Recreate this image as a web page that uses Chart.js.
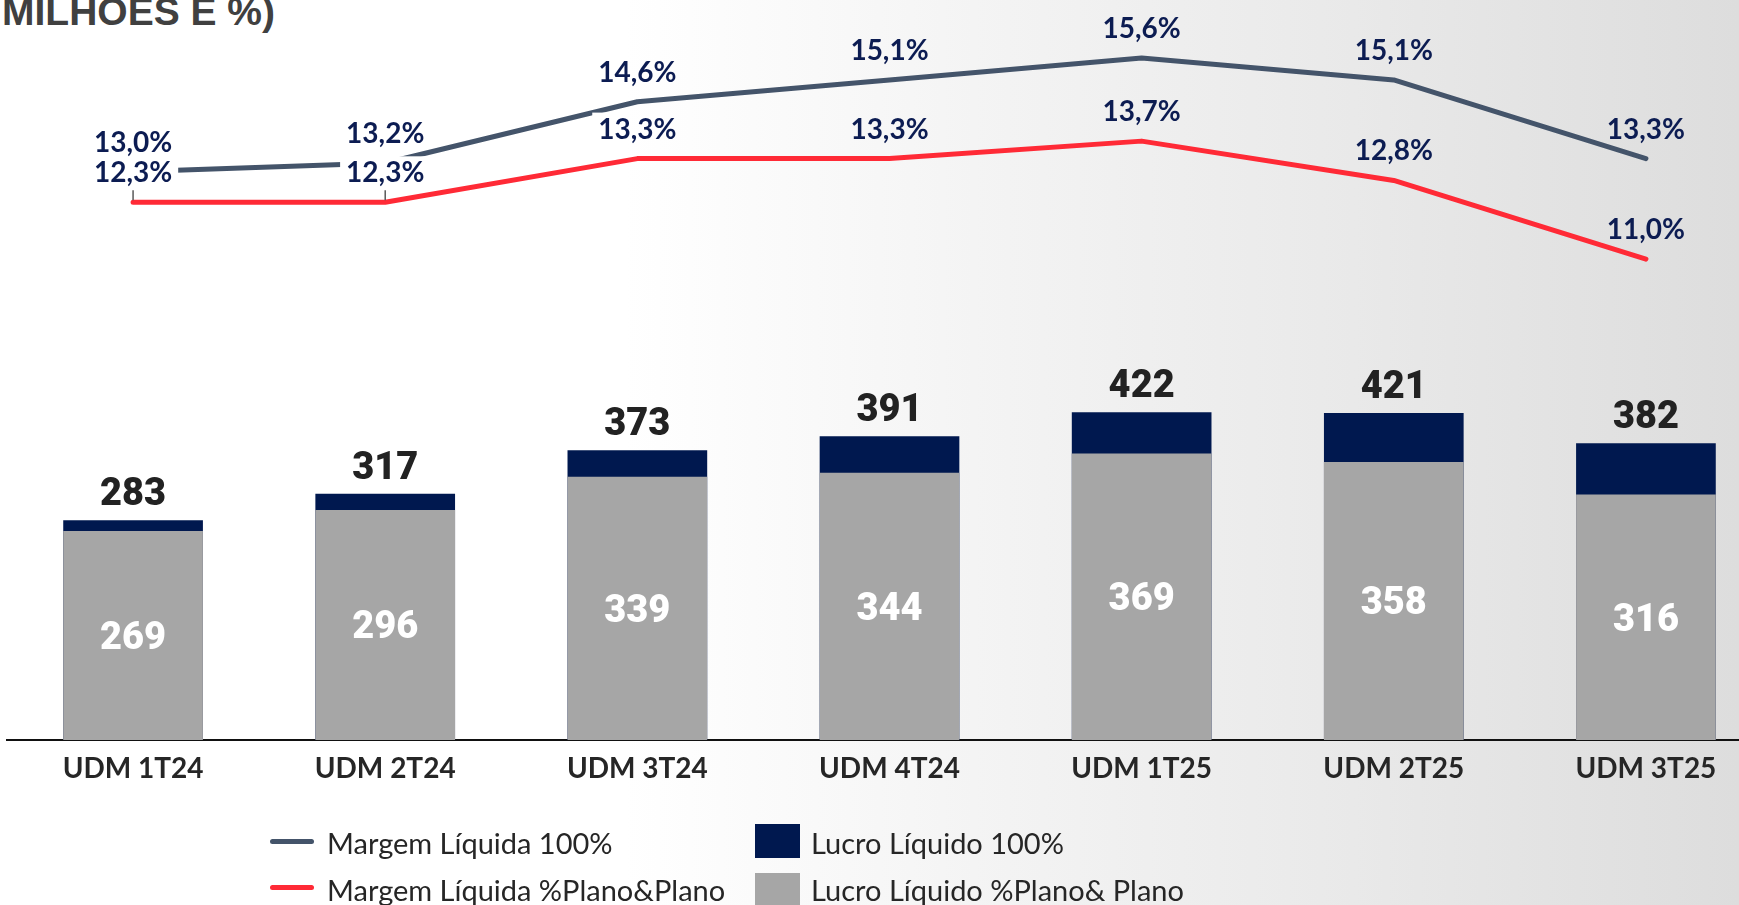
<!DOCTYPE html>
<html>
<head>
<meta charset="utf-8">
<script src="https://cdn.jsdelivr.net/npm/chart.js@4.4.1/dist/chart.umd.min.js"></script>
<style>
  html, body { margin: 0; padding: 0; width: 1739px; height: 905px; overflow: hidden; }
  body {
    background: linear-gradient(to right, #ffffff 0%, #ffffff 36%, #f4f4f4 56%, #eaeaea 76%, #dddddd 100%);
    position: relative;
    font-family: 'Lato', sans-serif;
  }
  #wrap { position: absolute; left: 0; top: 0; width: 1772px; height: 905px; }
  #title {
    position: absolute; left: 2px; top: -8px; font-family: 'Liberation Sans', Arial, sans-serif;
    font-weight: bold; font-size: 39px; line-height: 39px; color: #404040; white-space: nowrap;
  }
  .lg-line { position: absolute; width: 44px; height: 5px; border-radius: 3px; }
  .lg-box { position: absolute; width: 45px; height: 34px; }
  .lg-text {
    position: absolute; font-family: 'Lato', sans-serif; font-size: 29px; line-height: 28px;
    color: #262626; white-space: nowrap;
  }
</style>
</head>
<body>
<div id="title">MILHÕES E %)</div>
<div id="wrap"><canvas id="c" width="1772" height="905"></canvas></div>

<div class="lg-line" id="lgA" style="left:270px; top:839px;"></div>
<div class="lg-text" id="lgAt" style="left:327px; top:829px;"></div>
<div class="lg-line" id="lgB" style="left:270px; top:885px;"></div>
<div class="lg-text" id="lgBt" style="left:327px; top:876px;"></div>
<div class="lg-box" id="lgC" style="left:755px; top:824px;"></div>
<div class="lg-text" id="lgCt" style="left:811px; top:829px;"></div>
<div class="lg-box" id="lgD" style="left:755px; top:873px;"></div>
<div class="lg-text" id="lgDt" style="left:811px; top:876px;"></div>

<script>
// ---- data ----
const categories = ['UDM 1T24', 'UDM 2T24', 'UDM 3T24', 'UDM 4T24', 'UDM 1T25', 'UDM 2T25', 'UDM 3T25'];
const lucro100 = [283, 317, 373, 391, 422, 421, 382];
const lucroPlano = [269, 296, 339, 344, 369, 358, 316];
const margem100 = [13.0, 13.2, 14.6, 15.1, 15.6, 15.1, 13.3];
const margemPlano = [12.3, 12.3, 13.3, 13.3, 13.7, 12.8, 11.0];
const seriesNames = ['Margem Líquida 100%', 'Margem Líquida %Plano&Plano', 'Lucro Líquido 100%', 'Lucro Líquido %Plano& Plano'];
const leaderIdx = [0, 1];

// ---- styles ----
const C_BLUE = '#44546a';
const C_RED = '#ff2a36';
const C_NAVY = '#00184f';
const C_GRAY = '#a6a6a6';
const C_LABEL = '#0c1c52';

// legend (HTML, real text)
document.getElementById('lgA').style.background = C_BLUE;
document.getElementById('lgB').style.background = C_RED;
document.getElementById('lgC').style.background = C_NAVY;
document.getElementById('lgD').style.background = C_GRAY;
document.getElementById('lgAt').textContent = seriesNames[0];
document.getElementById('lgBt').textContent = seriesNames[1];
document.getElementById('lgCt').textContent = seriesNames[2];
document.getElementById('lgDt').textContent = seriesNames[3];

const fmtPct = v => v.toFixed(1).replace('.', ',') + '%';

const labelPlugin = {
  id: 'valueLabels',
  afterDatasetsDraw(chart) {
    const ctx = chart.ctx;
    ctx.save();
    // bar labels
    const mTot = chart.getDatasetMeta(2);
    const mPl = chart.getDatasetMeta(3);
    ctx.textAlign = 'center';
    ctx.textBaseline = 'alphabetic';
    ctx.font = '900 38px Roboto';
    ctx.fillStyle = '#222222';
    mTot.data.forEach((bar, i) => {
      ctx.fillText(String(lucro100[i]), bar.x, bar.y - 15);
    });
    ctx.fillStyle = '#ffffff';
    mPl.data.forEach((bar, i) => {
      const cy = (bar.y + bar.base) / 2;
      ctx.fillText(String(lucroPlano[i]), bar.x, cy + 13.5);
    });

    // percent labels: clear a box behind each label (reveals background), then draw text
    ctx.font = 'bold 28px Lato';
    const items = [];
    [[0, margem100], [1, margemPlano]].forEach(([di, arr]) => {
      chart.getDatasetMeta(di).data.forEach((pt, i) => {
        const txt = fmtPct(arr[i]);
        const w = ctx.measureText(txt).width;
        items.push({ x: pt.x, base: pt.y - 20, txt, w });
      });
    });
    ctx.globalCompositeOperation = 'destination-out';
    items.forEach(it => {
      ctx.fillRect(it.x - it.w / 2 - 6, it.base - 26, it.w + 12, 29);
    });
    ctx.globalCompositeOperation = 'source-over';
    ctx.fillStyle = C_LABEL;
    items.forEach(it => ctx.fillText(it.txt, it.x, it.base));

    // small leader ticks
    const mRed = chart.getDatasetMeta(1);
    ctx.strokeStyle = '#595959';
    ctx.lineWidth = 1.5;
    leaderIdx.forEach(i => {
      const p = mRed.data[i];
      ctx.beginPath();
      ctx.moveTo(p.x, p.y - 12);
      ctx.lineTo(p.x, p.y - 2);
      ctx.stroke();
    });
    ctx.restore();
  }
};

new Chart(document.getElementById('c'), {
  data: {
    labels: categories,
    datasets: [
      { type: 'line', label: seriesNames[0], data: margem100, yAxisID: 'y2', borderColor: C_BLUE,
        borderWidth: 5, pointRadius: 0, borderCapStyle: 'round', borderJoinStyle: 'round', order: 1, tension: 0 },
      { type: 'line', label: seriesNames[1], data: margemPlano, yAxisID: 'y2', borderColor: C_RED,
        borderWidth: 5, pointRadius: 0, borderCapStyle: 'round', borderJoinStyle: 'round', order: 2, tension: 0 },
      { type: 'bar', label: seriesNames[2], data: lucro100, yAxisID: 'y', backgroundColor: C_NAVY,
        grouped: false, order: 4, barPercentage: 0.554, categoryPercentage: 1 },
      { type: 'bar', label: seriesNames[3], data: lucroPlano, yAxisID: 'y', backgroundColor: C_GRAY,
        grouped: false, order: 3, barPercentage: 0.554, categoryPercentage: 1 }
    ]
  },
  options: {
    responsive: false,
    animation: false,
    devicePixelRatio: 1,
    layout: { padding: { left: 7, right: 0, top: 10, bottom: 107.5 } },
    plugins: { legend: { display: false }, tooltip: { enabled: false } },
    scales: {
      x: {
        z: 1,
        grid: { display: false, drawTicks: false },
        border: { display: true, color: '#111111', width: 2 },
        ticks: { padding: 12, color: '#262626', font: { family: 'Lato', weight: 'bold', size: 28 } }
      },
      y: { display: false, min: 0, max: 940 },
      y2: { display: false, min: 0, max: 16.7 }
    }
  },
  plugins: [labelPlugin]
});
</script>
</body>
</html>
